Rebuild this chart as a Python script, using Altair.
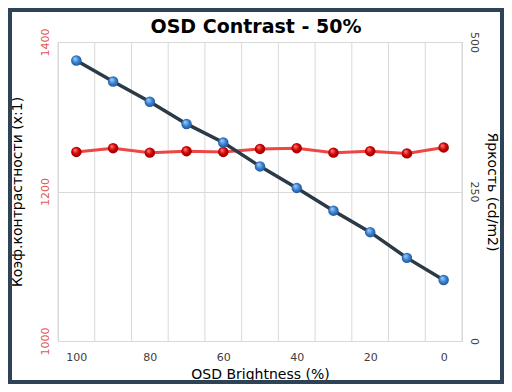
import altair as alt
import pandas as pd

# ---- data ----
osd = [100, 90, 80, 70, 60, 50, 40, 30, 20, 10, 0]
contrast = [1253, 1258, 1252, 1254, 1253, 1257, 1258, 1252, 1254, 1251, 1259]
brightness = [469, 434, 400, 363, 332, 292, 256, 218, 182, 139, 102]
x_ticks = [100, 80, 60, 40, 20, 0]
x_bounds = [105, 95, 85, 75, 65, 55, 45, 35, 25, 15, 5, -5]
contrast_ticks = [1000, 1200, 1400]
brightness_ticks = [0, 250, 500]

df = pd.DataFrame({"osd": osd, "contrast": contrast, "brightness": brightness})
grid_df = pd.DataFrame({"g": x_bounds})

FONT = "DejaVu Sans"
W, H = 404, 299
PAD = {"left": 50, "top": 34, "right": 42, "bottom": 43}


def xenc(field):
    return alt.X(
        f"{field}:Q",
        scale=alt.Scale(domain=[105, -5], nice=False, zero=False),
        axis=alt.Axis(
            values=x_ticks, format="d", title="OSD Brightness (%)", grid=False, ticks=False,
            domain=False, labelFontSize=11, labelColor="#404040", labelPadding=10,
            labelFlush=False, labelFont=FONT, titleFont=FONT, titleFontSize=14,
            titleFontWeight="normal", titleColor="#000000", titlePadding=5,
        ),
    )


def ball(light, mid, dark):
    return {
        "gradient": "radial",
        "x1": 0.35, "y1": 0.3, "r1": 0.0,
        "x2": 0.5, "y2": 0.5, "r2": 0.55,
        "stops": [
            {"offset": 0.0, "color": light},
            {"offset": 0.55, "color": mid},
            {"offset": 1.0, "color": dark},
        ],
    }


grid = alt.Chart(grid_df).mark_rule(color="#d9d9d9", strokeWidth=1).encode(x=xenc("g"))

contrast_layer = alt.Chart(df).mark_line(
    color="#ee4545", strokeWidth=3,
    point=alt.OverlayMarkDef(filled=True, fill=ball("#ff8a8a", "#d40000", "#8a0000"),
                             size=110, strokeWidth=0),
).encode(
    x=xenc("osd"),
    y=alt.Y(
        "contrast:Q",
        scale=alt.Scale(domain=[1000, 1400], nice=False, zero=False),
        axis=alt.Axis(
            orient="left", values=contrast_ticks, format="d",
            title="Коэф.контрастности (x:1)",
            grid=True, gridColor="#d9d9d9", ticks=False, domain=False,
            labelAngle=-90, labelAlign="center", labelBaseline="bottom",
            labelColor="#e35757", labelFontSize=11, labelPadding=8, labelFont=FONT,
            titleFont=FONT, titleFontSize=14, titleFontWeight="normal",
            titleColor="#000000", titlePadding=15,
        ),
    ),
)

bright_layer = alt.Chart(df).mark_line(
    color="#2b3a47", strokeWidth=3.5,
    point=alt.OverlayMarkDef(filled=True, fill=ball("#a9d4ff", "#3a82d2", "#1d4f8c"),
                             size=110, strokeWidth=0),
).encode(
    x=xenc("osd"),
    y=alt.Y(
        "brightness:Q",
        scale=alt.Scale(domain=[0, 500], nice=False, zero=False),
        axis=alt.Axis(
            orient="right", values=brightness_ticks, format="d",
            title="Яркость (cd/m2)",
            grid=False, ticks=False, domain=False,
            labelAngle=90, labelAlign="center", labelBaseline="bottom",
            labelColor="#404040", labelFontSize=11, labelPadding=6, labelFont=FONT,
            titleFont=FONT, titleFontSize=14, titleFontWeight="normal",
            titleColor="#000000", titlePadding=5,
        ),
    ),
)

frame = alt.Chart(grid_df).mark_rect(fill=None, fillOpacity=0, stroke="#2e4356",
                                     strokeWidth=7).encode(
    x=alt.value(-PAD["left"]), x2=alt.value(W + PAD["right"]),
    y=alt.value(-PAD["top"]), y2=alt.value(H + PAD["bottom"]),
)

chart = alt.layer(grid, contrast_layer, bright_layer, frame).resolve_scale(
    y="independent"
).properties(
    width=W, height=H,
    autosize=alt.AutoSizeParams(type="none"),
    padding=PAD,
    title=alt.TitleParams(
        "OSD Contrast - 50%", font=FONT, fontSize=19, fontWeight="bold",
        color="#000000", anchor="middle", frame="group", baseline="alphabetic",
        offset=0, dy=47, dx=-4,
    ),
).configure(background="white").configure_view(stroke="#d9d9d9", strokeWidth=1)

chart.save("out.html", embed_options={"renderer": "svg", "actions": False})
